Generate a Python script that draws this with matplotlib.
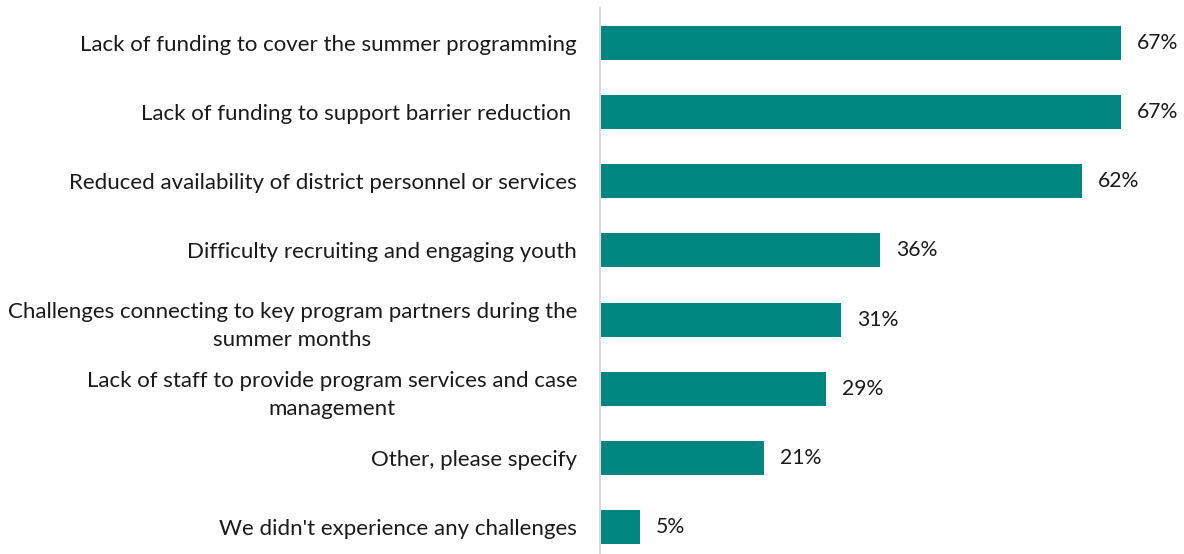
import matplotlib.pyplot as plt

plt.rcParams['font.family'] = ['Lato', 'DejaVu Sans']

# survey responses, top to bottom
labels = [
    "Lack of funding to cover the summer programming",
    "Lack of funding to support barrier reduction ",
    "Reduced availability of district personnel or services",
    "Difficulty recruiting and engaging youth",
    "Challenges connecting to key program partners during the\nsummer months",
    "Lack of staff to provide program services and case\nmanagement",
    "Other, please specify",
    "We didn't experience any challenges",
]
values = [67, 67, 62, 36, 31, 29, 21, 5]

W, H = 1184, 554
fig = plt.figure(figsize=(W / 100, H / 100), dpi=100)
ax = fig.add_axes([600 / W, 0, 1 - 600 / W, (H - 8) / H])

pos = list(range(len(values)))
ax.barh(pos, values, height=0.49, color='#008580', left=0.13)

for y, v in zip(pos, values):
    ax.text(v + 0.13 + 2.05, y, f"{v}%", va='center', ha='left',
            fontsize=15.2, color='#1a1a1a')

ax.set_xlim(0, 75.3)
ax.set_ylim(7.39, -0.506)

ax.set_yticks(pos)
ax.set_yticklabels(labels, fontsize=16, color='#1a1a1a',
                   multialignment='center', linespacing=1.5)
ax.tick_params(axis='y', length=0, pad=16.5)
ax.set_xticks([])

for s in ['top', 'right', 'bottom']:
    ax.spines[s].set_visible(False)
ax.spines['left'].set_color('#d9d9d9')
ax.spines['left'].set_linewidth(1.5)

fig.savefig('out.png', dpi=100)
